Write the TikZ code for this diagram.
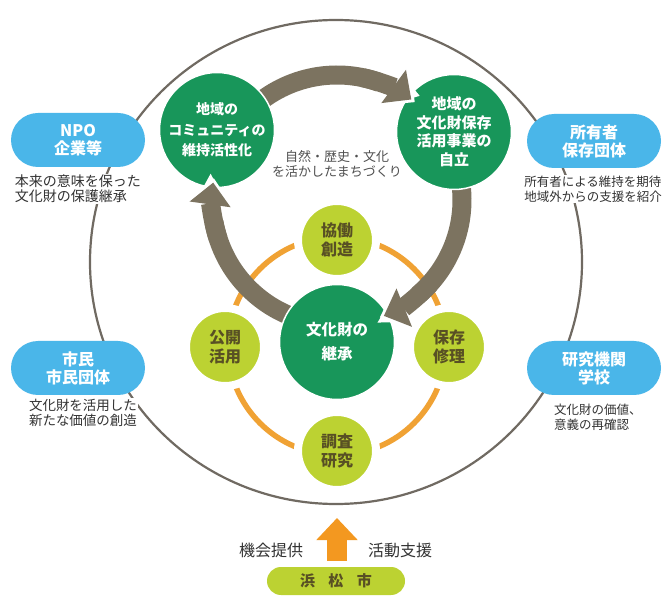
\documentclass[tikz,border=0pt]{standalone}
\usepackage{fontspec}
\newfontfamily\jp{Noto Sans CJK JP}
\usetikzlibrary{arrows.meta}
\definecolor{bigline}{RGB}{112,106,98}
\definecolor{pillblue}{RGB}{74,182,233}
\definecolor{dgreen}{RGB}{24,150,90}
\definecolor{ygreen}{RGB}{188,210,50}
\definecolor{oline}{RGB}{240,162,52}
\definecolor{brownar}{RGB}{124,115,96}
\definecolor{oarrow}{RGB}{243,152,32}
\definecolor{olivetext}{RGB}{88,80,36}
\definecolor{captext}{RGB}{50,50,50}
\definecolor{midtext}{RGB}{80,80,80}
\tikzset{
  pill/.style={rectangle, rounded corners=27pt, fill=pillblue, minimum width=134pt, minimum height=54pt,
    text=white, font=\jp\bfseries\fontsize{16}{18}\selectfont, align=center, inner sep=0pt},
  captxt/.style={fill=white, text=captext, align=left, inner sep=1pt},
  gcirc/.style={circle, fill=dgreen, draw=white, line width=1.5pt, minimum size=115pt, inner sep=0pt,
    text=white, align=center},
  ycirc/.style={circle, fill=ygreen, draw=white, line width=8pt, minimum size=78pt, inner sep=0pt,
    text=olivetext, align=center, font=\jp\bfseries\fontsize{16}{19}\selectfont},
  brarrow/.style={draw=brownar, line width=19pt, -{Triangle[width=40pt,length=22pt]}},
  brbody/.style={draw=brownar, line width=19pt},
  whitearrow/.style={draw=white, line width=25pt, -{Triangle[width=52pt,length=28pt]}},
  orering/.style={draw=oline, line width=5.5pt},
  lbl/.style={text=captext, font=\jp\fontsize{16}{18}\selectfont}
}
\begin{document}
\begin{tikzpicture}[x=1pt,y=1pt]
\useasboundingbox (0,0) rectangle (665,-596);
\fill[white] (0,0) rectangle (665,-596);

% big outer ring
\draw[bigline, line width=2.2pt] (336,-262) ellipse [x radius=246, y radius=242];

% pills and captions
\node[pill] (npo) at (78,-140) {NPO\\企業等};
\node[captxt, font=\jp\fontsize{14}{15}\selectfont] (npoc) at (78,-189) {本来の意味を保った\\文化財の保護継承};
\node[pill] (own) at (594,-141) {所有者\\保存団体};
\node[captxt, font=\jp\fontsize{12.5}{15}\selectfont] (ownc) at (593,-189) {所有者による維持を期待\\地域外からの支援を紹介};
\node[pill] (cit) at (78,-368) {市民\\市民団体};
\node[captxt, font=\jp\fontsize{13.5}{15}\selectfont] (citc) at (83,-413) {文化財を活用した\\新たな価値の創造};
\node[pill] (res) at (594,-368) {研究機関\\学校};
\node[captxt, font=\jp\fontsize{12.5}{15}\selectfont, anchor=west] (resc) at (553,-417) {文化財の価値、\\意義の再確認};

% middle text
\node[text=midtext, align=center, font=\jp\fontsize{13}{15}\selectfont] (mid) at (337,-164) {自然・歴史・文化\\を活かしたまちづくり};

% orange ring and yellow circles
\draw[orering] (337,-346) circle[radius=109];
\node[ycirc] (kyo) at (337,-240) {協働\\創造};
\node[ycirc] (kok) at (225,-347) {公開\\活用};
\node[ycirc] (hoz) at (449,-347) {保存\\修理};
\node[ycirc] (cho) at (337,-451) {調査\\研究};

% brown cycle arrows (bodies)
\draw[brbody] ([shift={(337,-200)}]135:125) arc[start angle=135, end angle=70, radius=125];
\draw[brbody] ([shift={(337,-200)}]15:125) arc[start angle=15, end angle=-50, radius=125];
\draw[brbody] ([shift={(337,-200)}]-100:125) arc[start angle=-100, end angle=-170, radius=125];

% green circles
\node[gcirc, font=\jp\bfseries\fontsize{14}{20.5}\selectfont] (comm) at (217,-130) {地域の\\コミュニティの\\維持活性化};
\node[gcirc, font=\jp\bfseries\fontsize{15}{18.5}\selectfont] (jir) at (454,-132) {地域の\\文化財保存\\活用事業の\\自立};
\node[gcirc, font=\jp\bfseries\fontsize{15.5}{24}\selectfont] (kei) at (337,-342) {文化財の\\継承};

% arrow heads with white outline
\draw[whitearrow] ([shift={(337,-200)}]70:125) arc[start angle=70, end angle=51.5, radius=125];
\draw[brarrow] ([shift={(337,-200)}]78:125) arc[start angle=78, end angle=53.5, radius=125];
\draw[whitearrow] ([shift={(337,-200)}]-50:125) arc[start angle=-50, end angle=-70, radius=125];
\draw[brarrow] ([shift={(337,-200)}]-42:125) arc[start angle=-42, end angle=-68, radius=125];
\draw[whitearrow] ([shift={(337,-200)}]-170:125) arc[start angle=-170, end angle=-190, radius=125];
\draw[brarrow] ([shift={(337,-200)}]-162:125) arc[start angle=-162, end angle=-188, radius=125];

% bottom
\node[rectangle, rounded corners=14pt, fill=ygreen, minimum width=138pt, minimum height=28pt, inner sep=0pt,
  text=olivetext, font=\jp\bfseries\fontsize{15}{17}\selectfont] (hama) at (336,-581) {浜\hspace{0.9em}松\hspace{0.9em}市};
\coordinate (atop) at (337,-518);
\draw[draw=oarrow, line width=20pt, -{Triangle[width=40pt,length=22pt]}] ([xshift=1pt,yshift=6pt]hama.north) -- (atop);
\node[lbl] (kikai) at (271,-550) {機会提供};
\node[lbl] (katsu) at (400,-550) {活動支援};
\end{tikzpicture}
\end{document}
